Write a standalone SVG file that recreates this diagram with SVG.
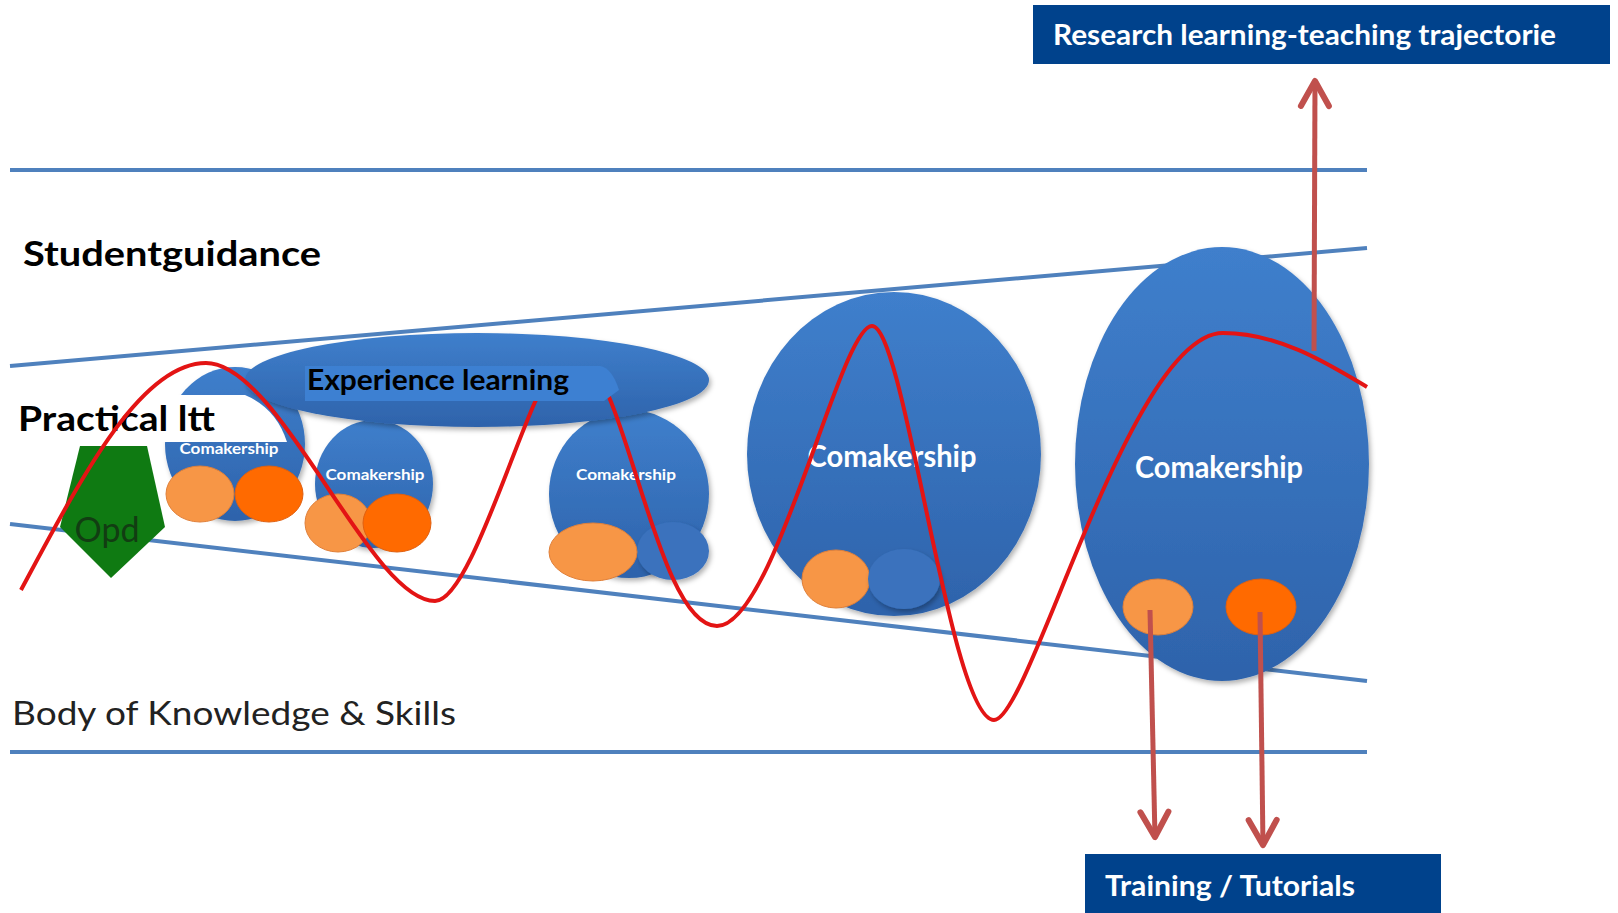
<svg xmlns="http://www.w3.org/2000/svg" width="1618" height="913" viewBox="0 0 1618 913">
<defs>
  <linearGradient id="gBlue" x1="0" y1="0" x2="0" y2="1">
    <stop offset="0" stop-color="#3f7fcc"/>
    <stop offset="1" stop-color="#2e63ab"/>
  </linearGradient>
  <filter id="sh" x="-20%" y="-20%" width="140%" height="140%">
    <feDropShadow dx="2" dy="3" stdDeviation="2.5" flood-color="#000" flood-opacity="0.3"/>
  </filter>
  <marker id="ah" viewBox="-32 -18 36 36" refX="0" refY="0" markerWidth="36" markerHeight="36" markerUnits="userSpaceOnUse" orient="auto">
    <path d="M-26,-14 L-1,0 L-26,14" fill="none" stroke="#c0504d" stroke-width="6" stroke-linecap="round" stroke-linejoin="round"/>
  </marker>
</defs>
<style>
  .band{stroke:#4f81bd;stroke-width:4;fill:none}
  .ell{fill:url(#gBlue);filter:url(#sh)}
  .lo{fill:#f79646;stroke:#e0803a;stroke-width:1}
  .do{fill:#ff6a00;stroke:#e06010;stroke-width:1}
  .bc{fill:#3a72bd;filter:url(#sh)}
  .cm{font-family:Lato,"Open Sans","Liberation Sans",sans-serif;font-weight:bold;fill:#ffffff;text-anchor:middle}
  .lbl{font-family:Lato,"Open Sans","Liberation Sans",sans-serif;font-weight:bold;fill:#000000}
  .box{fill:#00428c}
  .boxt{font-family:Lato,"Open Sans","Liberation Sans",sans-serif;font-weight:bold;fill:#ffffff;font-size:28px}
  .curve{stroke:#e31414;stroke-width:4;fill:none}
  .arr{stroke:#c0504d;stroke-width:5;fill:none;marker-end:url(#ah)}
</style>
<rect x="0" y="0" width="1618" height="913" fill="#ffffff"/>

<g id="bands">
  <line class="band" x1="10" y1="170" x2="1367" y2="170"/>
  <line class="band" x1="10" y1="752" x2="1367" y2="752"/>
  <line class="band" x1="10" y1="366" x2="1367" y2="248"/>
  <line class="band" x1="10" y1="524" x2="1367" y2="681"/>
</g>

<text id="studentguidance" class="lbl" x="23" y="266" font-size="34" textLength="298" lengthAdjust="spacingAndGlyphs">Studentguidance</text>
<text id="body" x="12" y="725" font-family="Lato,'Open Sans','Liberation Sans',sans-serif" font-size="33" fill="#222222" textLength="444" lengthAdjust="spacingAndGlyphs">Body of Knowledge &amp; Skills</text>

<g id="comakership1">
  <ellipse class="ell" cx="235" cy="444" rx="70" ry="77"/>
</g>
<g id="comakership2">
  <ellipse class="ell" cx="374" cy="484" rx="59" ry="64"/>
  <text class="cm" x="375" y="480" font-size="15" textLength="99" lengthAdjust="spacingAndGlyphs">Comakership</text>
  <ellipse class="lo" cx="338" cy="523" rx="33" ry="29"/>
  <ellipse class="do" cx="397" cy="523" rx="34" ry="29"/>
</g>
<g id="comakership3">
  <ellipse class="ell" cx="629" cy="494" rx="80" ry="84"/>
  <text class="cm" x="626" y="480" font-size="15" textLength="100" lengthAdjust="spacingAndGlyphs">Comakership</text>
  <ellipse class="bc" cx="673" cy="551" rx="36" ry="29"/>
  <ellipse class="lo" cx="593" cy="552" rx="44" ry="29"/>
</g>
<g id="experience-ellipse">
  <ellipse class="ell" cx="477" cy="380" rx="232" ry="47"/>
</g>
<g id="practical">
  <path d="M0,395 L245,395 Q276,408 287,442 L0,442 Z" fill="#ffffff"/>
  <text class="lbl" x="18" y="431" font-size="34" textLength="197" lengthAdjust="spacingAndGlyphs">Practical ltt</text>
</g>
<g id="comakership1-content">
  <text class="cm" x="229" y="454" font-size="15" textLength="99" lengthAdjust="spacingAndGlyphs">Comakership</text>
  <ellipse class="lo" cx="200" cy="494" rx="34" ry="28"/>
  <ellipse class="do" cx="269" cy="494" rx="34" ry="28"/>
</g>
<g id="opd">
  <polygon points="80,446 147,446 165,527 111,578 60,527" fill="#0f7a12"/>
  <text x="107" y="542" font-family="Lato,'Open Sans','Liberation Sans',sans-serif" font-size="34" fill="#123d12" text-anchor="middle">Opd</text>
</g>
<g id="comakership4">
  <ellipse class="ell" cx="894" cy="454" rx="147" ry="162"/>
  <text class="cm" x="892" y="467" font-size="30" textLength="169" lengthAdjust="spacingAndGlyphs">Comakership</text>
  <ellipse class="lo" cx="836" cy="579" rx="34" ry="29"/>
  <ellipse class="bc" cx="904" cy="579" rx="36" ry="30"/>
</g>
<g id="comakership5">
  <ellipse class="ell" cx="1222" cy="464" rx="147" ry="217"/>
  <text class="cm" x="1219" y="478" font-size="30" textLength="168" lengthAdjust="spacingAndGlyphs">Comakership</text>
  <ellipse class="lo" cx="1158" cy="607" rx="35" ry="28"/>
  <ellipse class="do" cx="1261" cy="607" rx="35" ry="28"/>
</g>

<g id="curve">
  <path class="curve" d="M21,590 C80,480 140,363 206,363 C280,363 370,601 435,601 C465,601 505,470 535,402 C549,370 597,368 609,397 C640,470 670,626 717,626 C775,626 840,326 872,326 C905,326 950,720 994,720 C1030,720 1130,333 1223,333 C1280,333 1330,365 1367,387"/>
</g>

<g id="experience-label">
  <path d="M305,366 L600,366 Q612,368 619,390 L604,401 L305,401 Z" fill="#3d80d2"/>
  <text class="lbl" x="307" y="390" font-size="28" textLength="262" lengthAdjust="spacingAndGlyphs">Experience learning</text>
</g>

<g id="connectors">
  <line class="arr" x1="1314" y1="351" x2="1315" y2="80"/>
  <line class="arr" x1="1150" y1="610" x2="1155" y2="838"/>
  <line class="arr" x1="1260" y1="612" x2="1263" y2="846"/>
</g>

<g id="research-box">
  <rect class="box" x="1033" y="5" width="577" height="59"/>
  <text class="boxt" x="1053" y="45" textLength="503" lengthAdjust="spacingAndGlyphs">Research learning-teaching trajectorie</text>
</g>
<g id="training-box">
  <rect class="box" x="1085" y="854" width="356" height="59"/>
  <text class="boxt" x="1105" y="896" textLength="250" lengthAdjust="spacingAndGlyphs">Training / Tutorials</text>
</g>
</svg>
